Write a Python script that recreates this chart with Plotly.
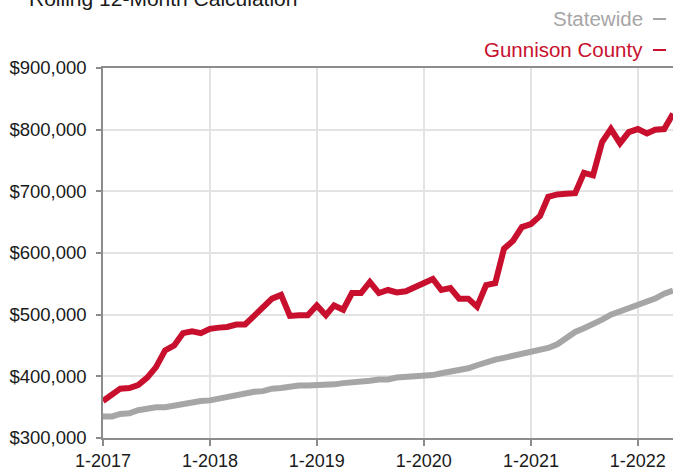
import plotly.graph_objects as go
import pandas as pd

months = pd.date_range("2017-01-01", "2022-05-01", freq="MS")

gunnison = [
    360000, 370000, 380000, 381000, 386000, 398000, 415000, 442000, 450000, 470000, 473000, 470000,
    477000, 479000, 480000, 484000, 484000, 498000, 512000, 526000, 532000, 498000, 499000, 499000,
    515000, 499000, 515000, 508000, 535000, 535000, 553000, 535000, 540000, 536000, 538000, 545000,
    551000, 558000, 540000, 543000, 526000, 526000, 513000, 548000, 551000, 607000, 620000, 642000,
    647000, 660000, 691000, 695000, 696000, 697000, 730000, 726000, 780000, 801000, 778000, 796000,
    801000, 794000, 800000, 801000, 826000,
]
statewide = [
    335000, 335000, 339000, 340000, 345000, 348000, 350000, 350000, 353000, 355000, 358000, 360000,
    361000, 364000, 365000, 370000, 372000, 375000, 376000, 380000, 381000, 384000, 385000, 385000,
    385000, 386000, 387000, 389000, 390000, 390000, 393000, 395000, 395000, 398000, 399000, 400000,
    400000, 402000, 405000, 408000, 409000, 413000, 418000, 423000, 427000, 430000, 433000, 436000,
    439000, 441000, 446000, 452000, 462000, 472000, 478000, 484000, 492000, 500000, 505000, 511000,
    515000, 520000, 526000, 534000, 539000,
]

x_tickvals = ["2017-01-01", "2018-01-01", "2019-01-01", "2020-01-01", "2021-01-01", "2022-01-01"]
x_ticktext = ["1-2017", "1-2018", "1-2019", "1-2020", "1-2021", "1-2022"]
y_tickvals = [300000, 400000, 500000, 600000, 700000, 800000, 900000]
y_ticktext = ["$300,000", "$400,000", "$500,000", "$600,000", "$700,000", "$800,000", "$900,000"]

series_names = ["Statewide", "Gunnison County"]
RED = "#c8102e"
GRAY = "#a6a6a6"
FONT = "Liberation Sans, Arial, Helvetica, sans-serif"

W, H = 673, 470
ML, MR, MT, MB = 103, 0, 68, 32
PW, PH = W - ML - MR, H - MT - MB


def px_x(x):
    return (x - ML) / PW


def px_y(y):
    return 1 - (y - MT) / PH


fig = go.Figure()
fig.add_trace(go.Scatter(x=months, y=statewide, mode="lines", name=series_names[0],
                         line=dict(color=GRAY, width=6), hoverinfo="skip"))
fig.add_trace(go.Scatter(x=months, y=gunnison, mode="lines", name=series_names[1],
                         line=dict(color=RED, width=6), hoverinfo="skip"))

fig.update_layout(
    width=W, height=H,
    margin=dict(l=ML, r=MR, t=MT, b=MB, autoexpand=False),
    paper_bgcolor="white", plot_bgcolor="white",
    showlegend=False,
    font=dict(family=FONT, color="#1a1a1a", size=18),
    xaxis=dict(
        type="date", range=["2017-01-01", "2022-05-01"],
        tickvals=x_tickvals, ticktext=x_ticktext,
        showgrid=True, gridcolor="#e3e3e3", gridwidth=1.5,
        showline=True, linecolor="#8c8c8c", linewidth=1.5, mirror=True,
        ticks="outside", ticklen=6, tickcolor="#8c8c8c", tickwidth=1.5,
        tickfont=dict(size=18, family=FONT, color="#1a1a1a"),
        zeroline=False, automargin=False,
    ),
    yaxis=dict(
        range=[300000, 900000],
        tickvals=y_tickvals, ticktext=y_ticktext,
        showgrid=True, gridcolor="#e3e3e3", gridwidth=1.5,
        showline=True, linecolor="#8c8c8c", linewidth=1.5,
        ticks="outside", ticklen=5, tickcolor="#8c8c8c", tickwidth=1.5,
        ticklabelstandoff=6,
        tickfont=dict(size=18.5, family=FONT, color="#1a1a1a"),
        zeroline=False, automargin=False,
    ),
)

# Title (partially cut off at the top in the reference)
fig.add_annotation(text="Rolling 12-Month Calculation", xref="paper", yref="paper",
                   x=px_x(27), y=px_y(12), xanchor="left", yanchor="bottom",
                   showarrow=False, font=dict(size=21, family=FONT, color="#1a1a1a"))

# Custom legend: right-aligned text followed by a short dash
for name, color, yc in [(series_names[0], GRAY, 18), (series_names[1], RED, 49)]:
    fig.add_annotation(text=name, xref="paper", yref="paper",
                       x=px_x(645), y=px_y(yc), xanchor="right", yanchor="middle",
                       showarrow=False, font=dict(size=20.5, family=FONT, color=color))
    fig.add_shape(type="line", xref="paper", yref="paper",
                  x0=px_x(653), x1=px_x(666), y0=px_y(yc + 1), y1=px_y(yc + 1),
                  line=dict(color=color, width=2))

fig.write_html("out.html", config={"displayModeBar": False},
               post_script="document.body.style.margin='0';document.body.style.overflow='hidden';")
